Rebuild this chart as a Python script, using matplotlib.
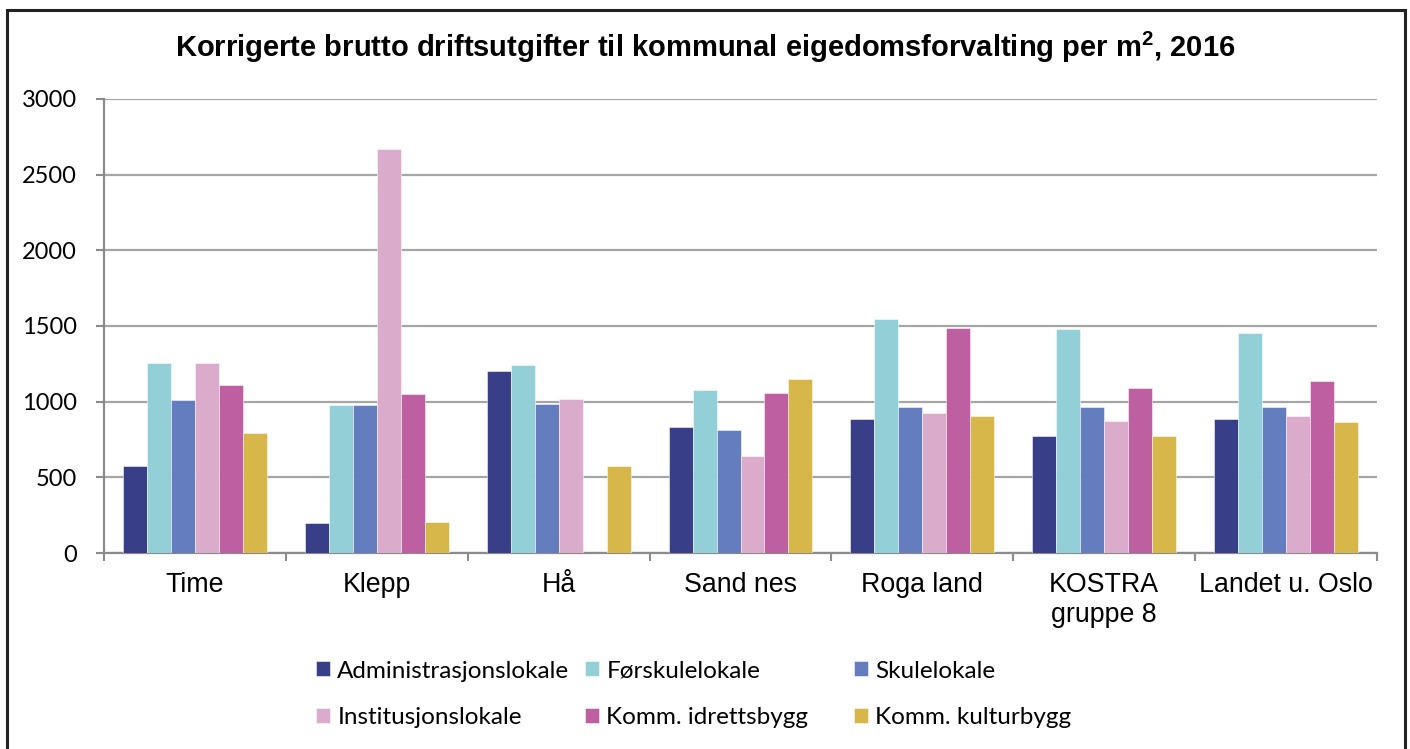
import numpy as np
import matplotlib
matplotlib.use("Agg")
import matplotlib.pyplot as plt
from matplotlib.patches import Rectangle

categories = ["Time", "Klepp", "Hå", "Sand nes", "Roga land", "KOSTRA\ngruppe 8", "Landet u. Oslo"]
series_names = ["Administrasjonslokale", "Førskulelokale", "Skulelokale",
                "Institusjonslokale", "Komm. idrettsbygg", "Komm. kulturbygg"]
admin = [575, 200, 1200, 830, 885, 775, 885]
forskule = [1258, 977, 1245, 1077, 1545, 1478, 1455]
skule = [1010, 980, 985, 812, 965, 965, 967]
institusjon = [1255, 2668, 1017, 641, 923, 873, 905]
idrett = [1110, 1050, np.nan, 1057, 1487, 1090, 1137]
kultur = [792, 205, 575, 1150, 905, 775, 866]
yticks = [0, 500, 1000, 1500, 2000, 2500, 3000]
title = "Korrigerte brutto driftsutgifter til kommunal eigedomsforvalting per m$^{2}$, 2016"

series = [admin, forskule, skule, institusjon, idrett, kultur]
colors = ["#383F88", "#93CFD6", "#637DBF", "#DAABCB", "#BD5FA0", "#D7B74A"]

plt.rcParams["mathtext.fontset"] = "custom"
plt.rcParams["mathtext.rm"] = "Liberation Sans:bold"
plt.rcParams["mathtext.it"] = "Liberation Sans:bold"
plt.rcParams["mathtext.bf"] = "Liberation Sans:bold"

W, H = 1410, 749
fig = plt.figure(figsize=(W / 100, H / 100), dpi=100)
fig.patch.set_facecolor("white")

ax = fig.add_axes([104 / W, 1 - 553 / H, (1377 - 104) / W, (553 - 99) / H])

n = len(series)
bw = 24 / 182
x = np.arange(len(categories))
bars = []
for i, (vals, col, name) in enumerate(zip(series, colors, series_names)):
    offs = (i - (n - 1) / 2) * bw
    b = ax.bar(x + offs, vals, width=bw, color=col, edgecolor=(1, 1, 1, 0.6),
               linewidth=0.6, label=name, zorder=3)
    bars.append(b)

ax.set_xlim(-0.5, len(categories) - 0.5)
ax.set_ylim(0, 3000)
ax.set_yticks(yticks)
ax.set_yticklabels([str(v) for v in yticks], fontfamily="Lato", fontsize=17)
ax.yaxis.grid(True, color="#A6A6A6", linewidth=1.6, zorder=0)
ax.set_axisbelow(True)

ax.set_xticks(x)
ax.set_xticklabels(categories, fontfamily="Liberation Sans", fontsize=19.3)
ax.set_xticks(np.arange(len(categories) + 1) - 0.5, minor=True)
ax.tick_params(axis="x", which="major", length=0, pad=13.5)
ax.tick_params(axis="x", which="minor", length=6, width=1.5, color="#8C8C8C", direction="out")
ax.tick_params(axis="y", length=6, width=1.5, color="#8C8C8C", direction="out", pad=13.5)

for s in ["top", "right"]:
    ax.spines[s].set_visible(False)
for s in ["left", "bottom"]:
    ax.spines[s].set_color("#8C8C8C")
    ax.spines[s].set_linewidth(1.6)

fig.text(0.5, 1 - 47.5 / H, title, ha="center", va="center",
         fontfamily="Liberation Sans", fontweight="bold", fontsize=21)

# legend: 3 columns x 2 rows at fixed positions
col_x = [316, 585, 854]
row_y = [671, 718]
for i, b in enumerate(bars):
    r, c = divmod(i, 3)
    fig.legend(handles=[b], labels=[series_names[i]], loc="center left",
               bbox_to_anchor=(col_x[c] / W, 1 - row_y[r] / H),
               frameon=False, borderpad=0, borderaxespad=0,
               handlelength=0.58, handleheight=0.58, handletextpad=0.3,
               prop={"family": "Lato", "size": 17.5})

# outer frame
fig.add_artist(Rectangle((7 / W, -0.05), (1405 - 7) / W, (1 - 10 / H) + 0.05,
                         transform=fig.transFigure, fill=False,
                         edgecolor="#222222", linewidth=2.2, zorder=10))

fig.savefig("out.png", dpi=100, facecolor="white")
